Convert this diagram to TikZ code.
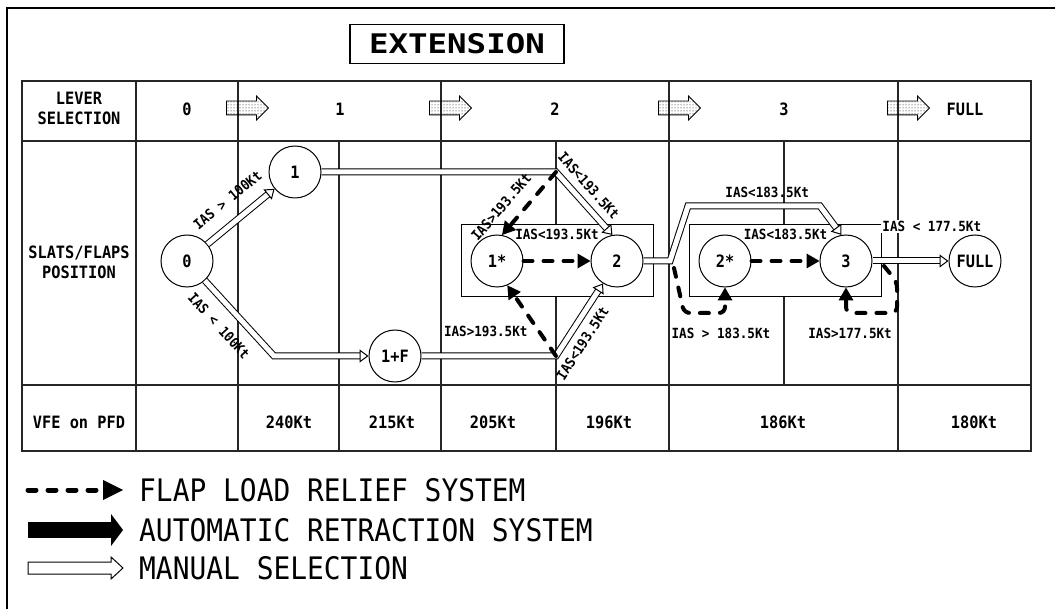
\documentclass[tikz,border=0pt]{standalone}
\usepackage{fontspec}
\newfontfamily\airfont{DejaVu Sans Mono}[FakeStretch=0.9]
\newfontfamily\titlefont{DejaVu Sans Mono}[FakeStretch=1.2]
\usetikzlibrary{positioning, calc, shapes.arrows, arrows.meta, patterns}

\begin{document}
\begin{tikzpicture}[
    x=1pt, y=-1pt,
    tableline/.style={line width=1.3pt, draw=black!85},
    cell/.style={font=\airfont\bfseries\fontsize{17}{20}\selectfont, align=center, inner sep=0pt},
    flapstate/.style={circle, draw, fill=white, line width=1pt, minimum size=52pt, inner sep=0pt, font=\airfont\bfseries\fontsize{17}{17}\selectfont},
    stagebox/.style={rectangle, draw, fill=white, line width=1pt, minimum width=192pt, minimum height=72pt},
    leverarrow/.style={single arrow, draw, line width=0.8pt, pattern=dots, minimum height=42pt, inner xsep=0pt, inner ysep=6.5pt, single arrow head extend=5pt},
    manual/.style={double, double distance=5pt, line width=1pt, -{Triangle[fill=white, length=9pt, width=13pt, line width=1pt]}},
    relief/.style={line width=4pt, line cap=round, dash pattern=on 9pt off 11pt, -{Triangle[length=13pt, width=15pt, line width=0pt]}},
    cond/.style={font=\airfont\bfseries\fontsize{14}{14}\selectfont, inner sep=1.5pt},
    legendtext/.style={font=\airfont\fontsize{31}{31}\selectfont, inner sep=0pt, anchor=west}
]
    \useasboundingbox (0,0) rectangle (1055,609);

    % outer frame
    \draw[line width=2.5pt] (7,615) -- (7,8) -- (1060,8);

    % table
    \draw[tableline] (22,81) rectangle (1031,451);
    \foreach \yy in {141,385} \draw[tableline] (22,\yy) -- (1031,\yy);
    \foreach \xx in {136,238,441,669,898} \draw[tableline] (\xx,81) -- (\xx,451);
    \foreach \xx in {339,556} \draw[tableline] (\xx,141) -- (\xx,451);
    \draw[tableline] (784,141) -- (784,385);

    \node[draw, line width=1.2pt, minimum width=214pt, minimum height=39pt, inner sep=0pt, font=\titlefont\bfseries\fontsize{27}{27}\selectfont] (title) at (457,44) {EXTENSION};

    % row headers
    \node[cell] (lever) at (79,108) {LEVER\\SELECTION};
    \node[cell] (slats) at (79,262) {SLATS/FLAPS\\POSITION};
    \node[cell] (vfe) at (79,422) {VFE on PFD};

    % lever selection
    \node[cell] (sel0) at (187,109) {0};
    \node[cell] (sel1) at (340,109) {1};
    \node[cell] (sel2) at (555,109) {2};
    \node[cell] (sel3) at (784,109) {3};
    \node[cell] (selfull) at (965,109) {FULL};
    \node[leverarrow] (lv01) at (244,108) {};
    \node[leverarrow] (lv12) at (447,108) {};
    \node[leverarrow] (lv23) at (676,108) {};
    \node[leverarrow] (lv3f) at (905,108) {};

    % VFE speeds
    \node[cell] (vfe1) at (289,422) {240Kt};
    \node[cell] (vfe1f) at (392,422) {215Kt};
    \node[cell] (vfe1s) at (493,422) {205Kt};
    \node[cell] (vfe2) at (609,422) {196Kt};
    \node[cell] (vfe3) at (783,422) {186Kt};
    \node[cell] (vfefull) at (974,422) {180Kt};

    % configurations
    \node[stagebox] (stageA) at (557,261) {};
    \node[stagebox] (stageB) at (785,261) {};
    \node[flapstate] (z0) at (187,261) {0};
    \node[flapstate] (z1) at (295,172) {1};
    \node[flapstate] (z1F) at (395,356) {1+F};
    \node[flapstate] (z1s) at (497,261) {1*};
    \node[flapstate] (z2) at (617,261) {2};
    \node[flapstate] (z2s) at (725,261) {2*};
    \node[flapstate] (z3) at (846,261) {3};
    \node[flapstate] (zfull) at (975,261) {FULL};

    \coordinate (c0F) at (274,356);
    \coordinate (c12) at (556,172);
    \coordinate (c1F2) at (556,356);
    \coordinate (c23a) at (670,261);
    \coordinate (c23b) at (688,206);
    \coordinate (c23c) at (820,206);
    \coordinate (c23d) at (674,268);
    \coordinate (c3F) at (884,266);
    \coordinate (r2a) at (684,313);
    \coordinate (r2b) at (725,313);
    \coordinate (r3a) at (897,282);
    \coordinate (r3b) at (897,313);
    \coordinate (r3c) at (846,313);

    % manual selection
    \draw[manual] (z0) -- (z1) node[cond, midway, sloped, above=14pt] {IAS > 100Kt};
    \draw[manual] (z0) -- node[cond, pos=0.42, sloped, below=13pt] {IAS < 100Kt} (c0F) -- (z1F);
    \draw[manual] (z1) -- (c12) -- node[cond, pos=0.38, sloped, above=8pt] {IAS<193.5Kt} (z2.100);
    \draw[manual] (z1F) -- (c1F2) -- node[cond, pos=0.29, sloped, below=8pt] {IAS<193.5Kt} (z2.238);
    \draw[manual] (z2) -- (c23a) -- (c23b) -- node[cond, pos=0.6, above=6pt] {IAS<183.5Kt} (c23c) -- (z3.100);
    \draw[manual] (z3) -- node[cond, fill=white, pos=0.78, above=27pt] {IAS < 177.5Kt} (zfull);

    % flap load relief
    \draw[relief] (z1s) -- node[cond, above=18pt] {IAS<193.5Kt} (z2);
    \draw[relief] (c12) -- node[cond, pos=0.75, sloped, above=10pt] {IAS>193.5Kt} (z1s.79);
    \draw[relief] (c1F2) -- node[cond, pos=0.35, left=8pt] {IAS>193.5Kt} (z1s.293);
    \draw[relief] (z2s) -- node[cond, above=18pt] {IAS<183.5Kt} (z3);
    \draw[relief, rounded corners=6pt] (c23d) -- (r2a) -- node[cond, pos=0.9, below=12pt] {IAS > 183.5Kt} (r2b) -- (z2s);
    \draw[relief, rounded corners=6pt] (c3F) -- (r3a) -- (r3b) -- node[cond, pos=0.92, below=12pt] {IAS>177.5Kt} (r3c) -- (z3);

    % legend
    \coordinate (lgA1) at (28,490);
    \coordinate (lgA2) at (123,490);
    \coordinate (lgB1) at (28,530);
    \coordinate (lgB2) at (123,530);
    \draw[line width=5pt, line cap=round, dash pattern=on 8pt off 12pt, -{Triangle[length=20pt, width=20pt, line width=0pt]}] (lgA1) -- (lgA2);
    \draw[line width=16pt, -{Triangle[length=12pt, width=32pt, line width=0pt]}] (lgB1) -- (lgB2);
    \draw[line width=1pt, fill=white, line join=miter] (28,562) -- (111,562) -- (111,557) -- (123,568) -- (111,579) -- (111,574) -- (28,574) -- cycle;
    \node[legendtext] (lgrelief) at (139,490) {FLAP LOAD RELIEF SYSTEM};
    \node[legendtext] (lgauto) at (139,530) {AUTOMATIC RETRACTION SYSTEM};
    \node[legendtext] (lgmanual) at (139,568) {MANUAL SELECTION};
\end{tikzpicture}
\end{document}
